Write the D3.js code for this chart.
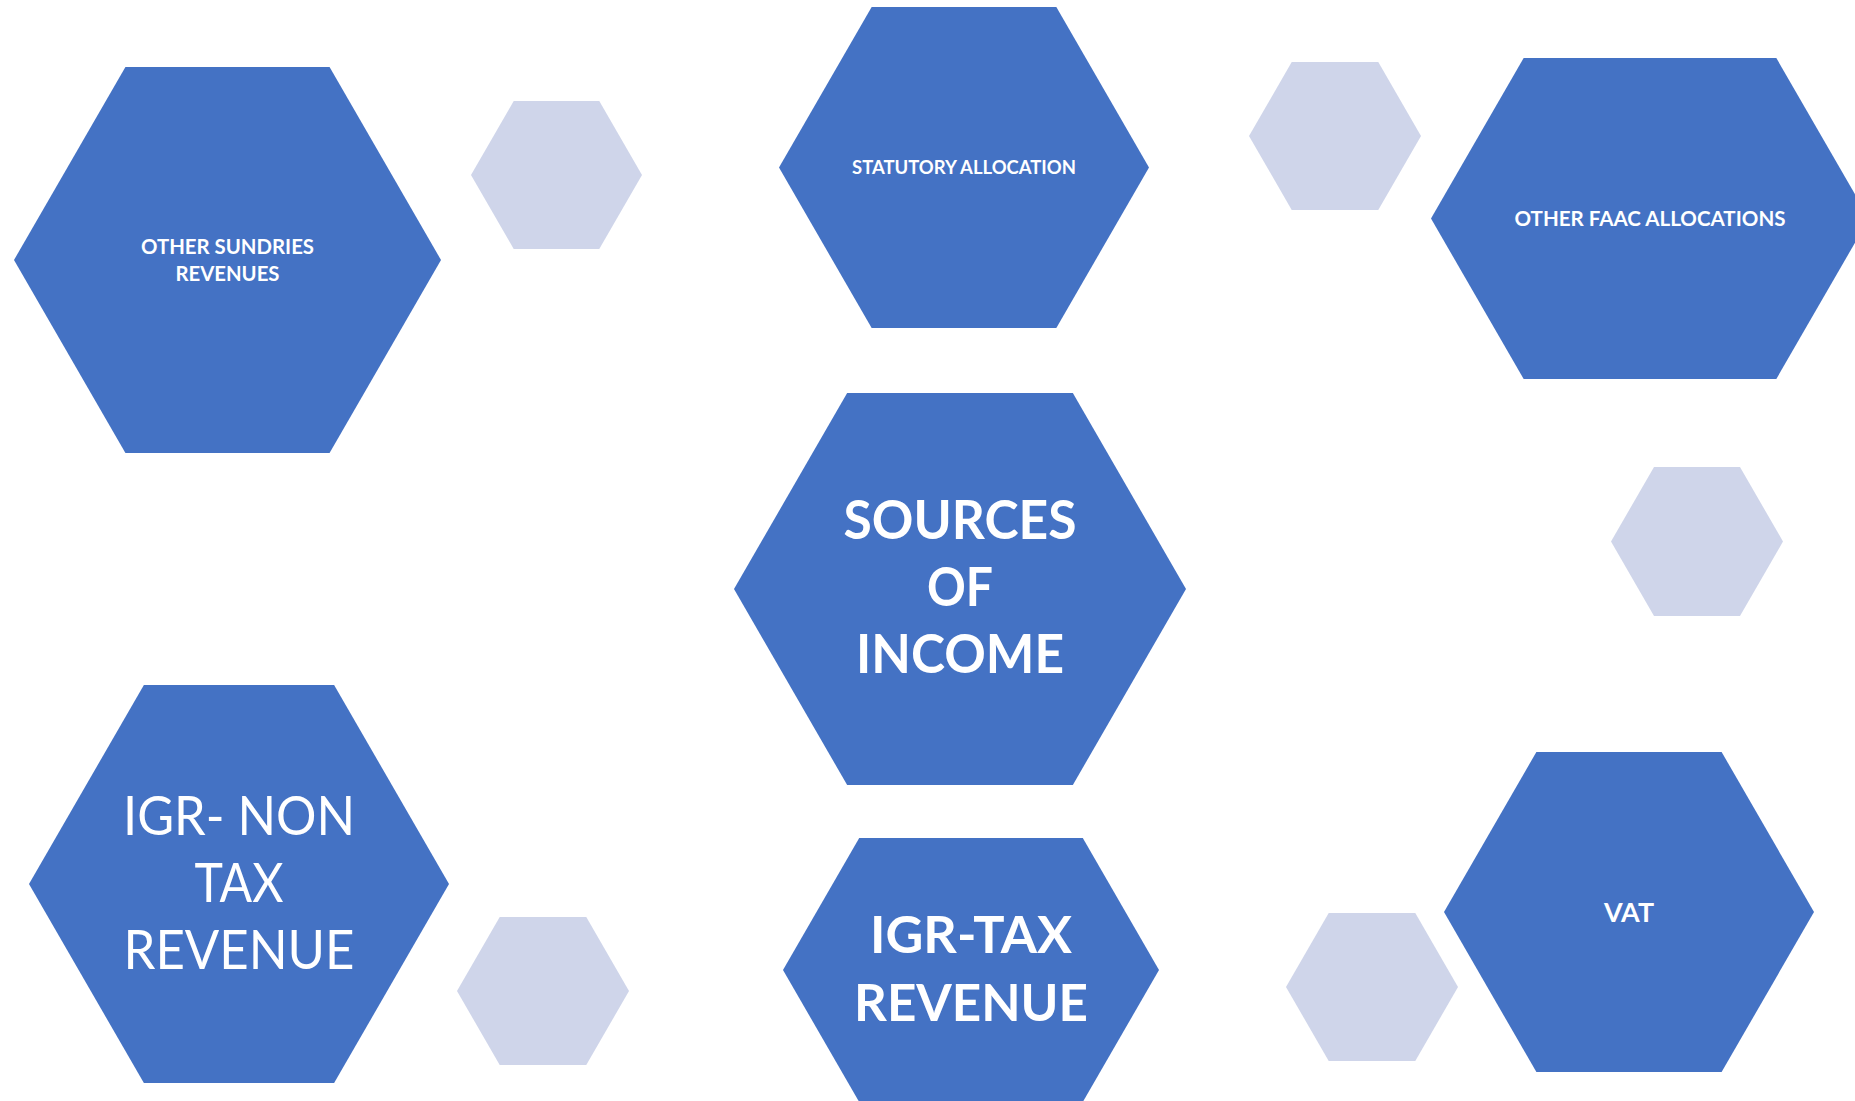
<!DOCTYPE html>
<html>
<head>
<meta charset="utf-8">
<script src="https://cdn.jsdelivr.net/npm/d3@7"></script>
<style>
  html, body { margin: 0; padding: 0; background: #fff; overflow: hidden; }
  svg { display: block; }
</style>
</head>
<body>
<svg id="chart" width="1855" height="1101"></svg>
<script>
// labels of the main (dark) hexagons, one entry per line
const labels = [
  ["OTHER SUNDRIES", "REVENUES"],
  ["STATUTORY ALLOCATION"],
  ["OTHER FAAC ALLOCATIONS"],
  ["SOURCES", "OF", "INCOME"],
  ["IGR- NON", "TAX", "REVENUE"],
  ["IGR-TAX", "REVENUE"],
  ["VAT"]
];
const bold = [true, true, true, true, false, true, true];

// layout: bounding boxes [x0, x1, y0, y1] of the dark hexagons
const darkBoxes = [
  [14, 441, 67, 453],
  [779, 1149, 7, 328],
  [1431, 1869, 58, 379],
  [734, 1186, 393, 785],
  [29, 449, 685, 1083],
  [783, 1159, 838, 1102],
  [1444, 1814, 752, 1072]
];
// text styling: cap height, line gap, vertical nudge and fitted line widths (px)
const capHeights = [14.3, 13.3, 15, 38.7, 39, 36.7, 19.3];
const lineGaps = [27, 0, 0, 67, 67, 68, 0];
const textShift = [0, 0, 0, -2, -2, -1, 0];
const lineWidths = [
  [173, 104],
  [224],
  [271],
  [233, 66, 208],
  [232, 89, 231],
  [202, 234],
  [50]
];

// the small light decorative hexagons
const lightBoxes = [
  [471, 642, 101, 249],
  [1249, 1421, 62, 210],
  [1611, 1783, 467, 616],
  [457, 629, 917, 1065],
  [1286, 1458, 913, 1061]
];

const darkColor = "#4472C4";
const lightColor = "#CFD5EA";
const capRatio = 0.7165; // Lato cap height / em

const svg = d3.select("#chart");
const line = d3.line().curve(d3.curveLinearClosed);

const hexPoints = b => {
  const [x0, x1, y0, y1] = b;
  const cy = (y0 + y1) / 2;
  const inset = (y1 - y0) / 2 / Math.tan(Math.PI / 3);
  return [[x0, cy], [x0 + inset, y0], [x1 - inset, y0], [x1, cy], [x1 - inset, y1], [x0 + inset, y1]];
};

svg.selectAll(".light")
  .data(lightBoxes)
  .enter()
  .append("path")
  .attr("class", "light")
  .attr("d", d => line(hexPoints(d)))
  .style("fill", lightColor);

const groups = svg.selectAll(".hex")
  .data(darkBoxes.map((b, i) => ({
    box: b, lines: labels[i], bold: bold[i], cap: capHeights[i],
    gap: lineGaps[i], shift: textShift[i], widths: lineWidths[i]
  })))
  .enter()
  .append("g")
  .attr("class", "hex");

groups.append("path")
  .attr("d", d => line(hexPoints(d.box)))
  .style("fill", darkColor);

groups.each(function(d) {
  const g = d3.select(this);
  const cx = (d.box[0] + d.box[1]) / 2;
  const cy = (d.box[2] + d.box[3]) / 2;
  const n = d.lines.length;
  d.lines.forEach((t, i) => {
    g.append("text")
      .attr("x", cx)
      .attr("y", cy + (i - (n - 1) / 2) * d.gap + d.cap / 2 + d.shift)
      .attr("text-anchor", "middle")
      .attr("textLength", d.widths[i])
      .attr("lengthAdjust", "spacingAndGlyphs")
      .style("font-family", "Lato, 'Open Sans', sans-serif")
      .style("font-weight", d.bold ? 700 : 400)
      .style("font-size", (d.cap / capRatio).toFixed(1) + "px")
      .style("fill", "#fff")
      .text(t);
  });
});
</script>
</body>
</html>
